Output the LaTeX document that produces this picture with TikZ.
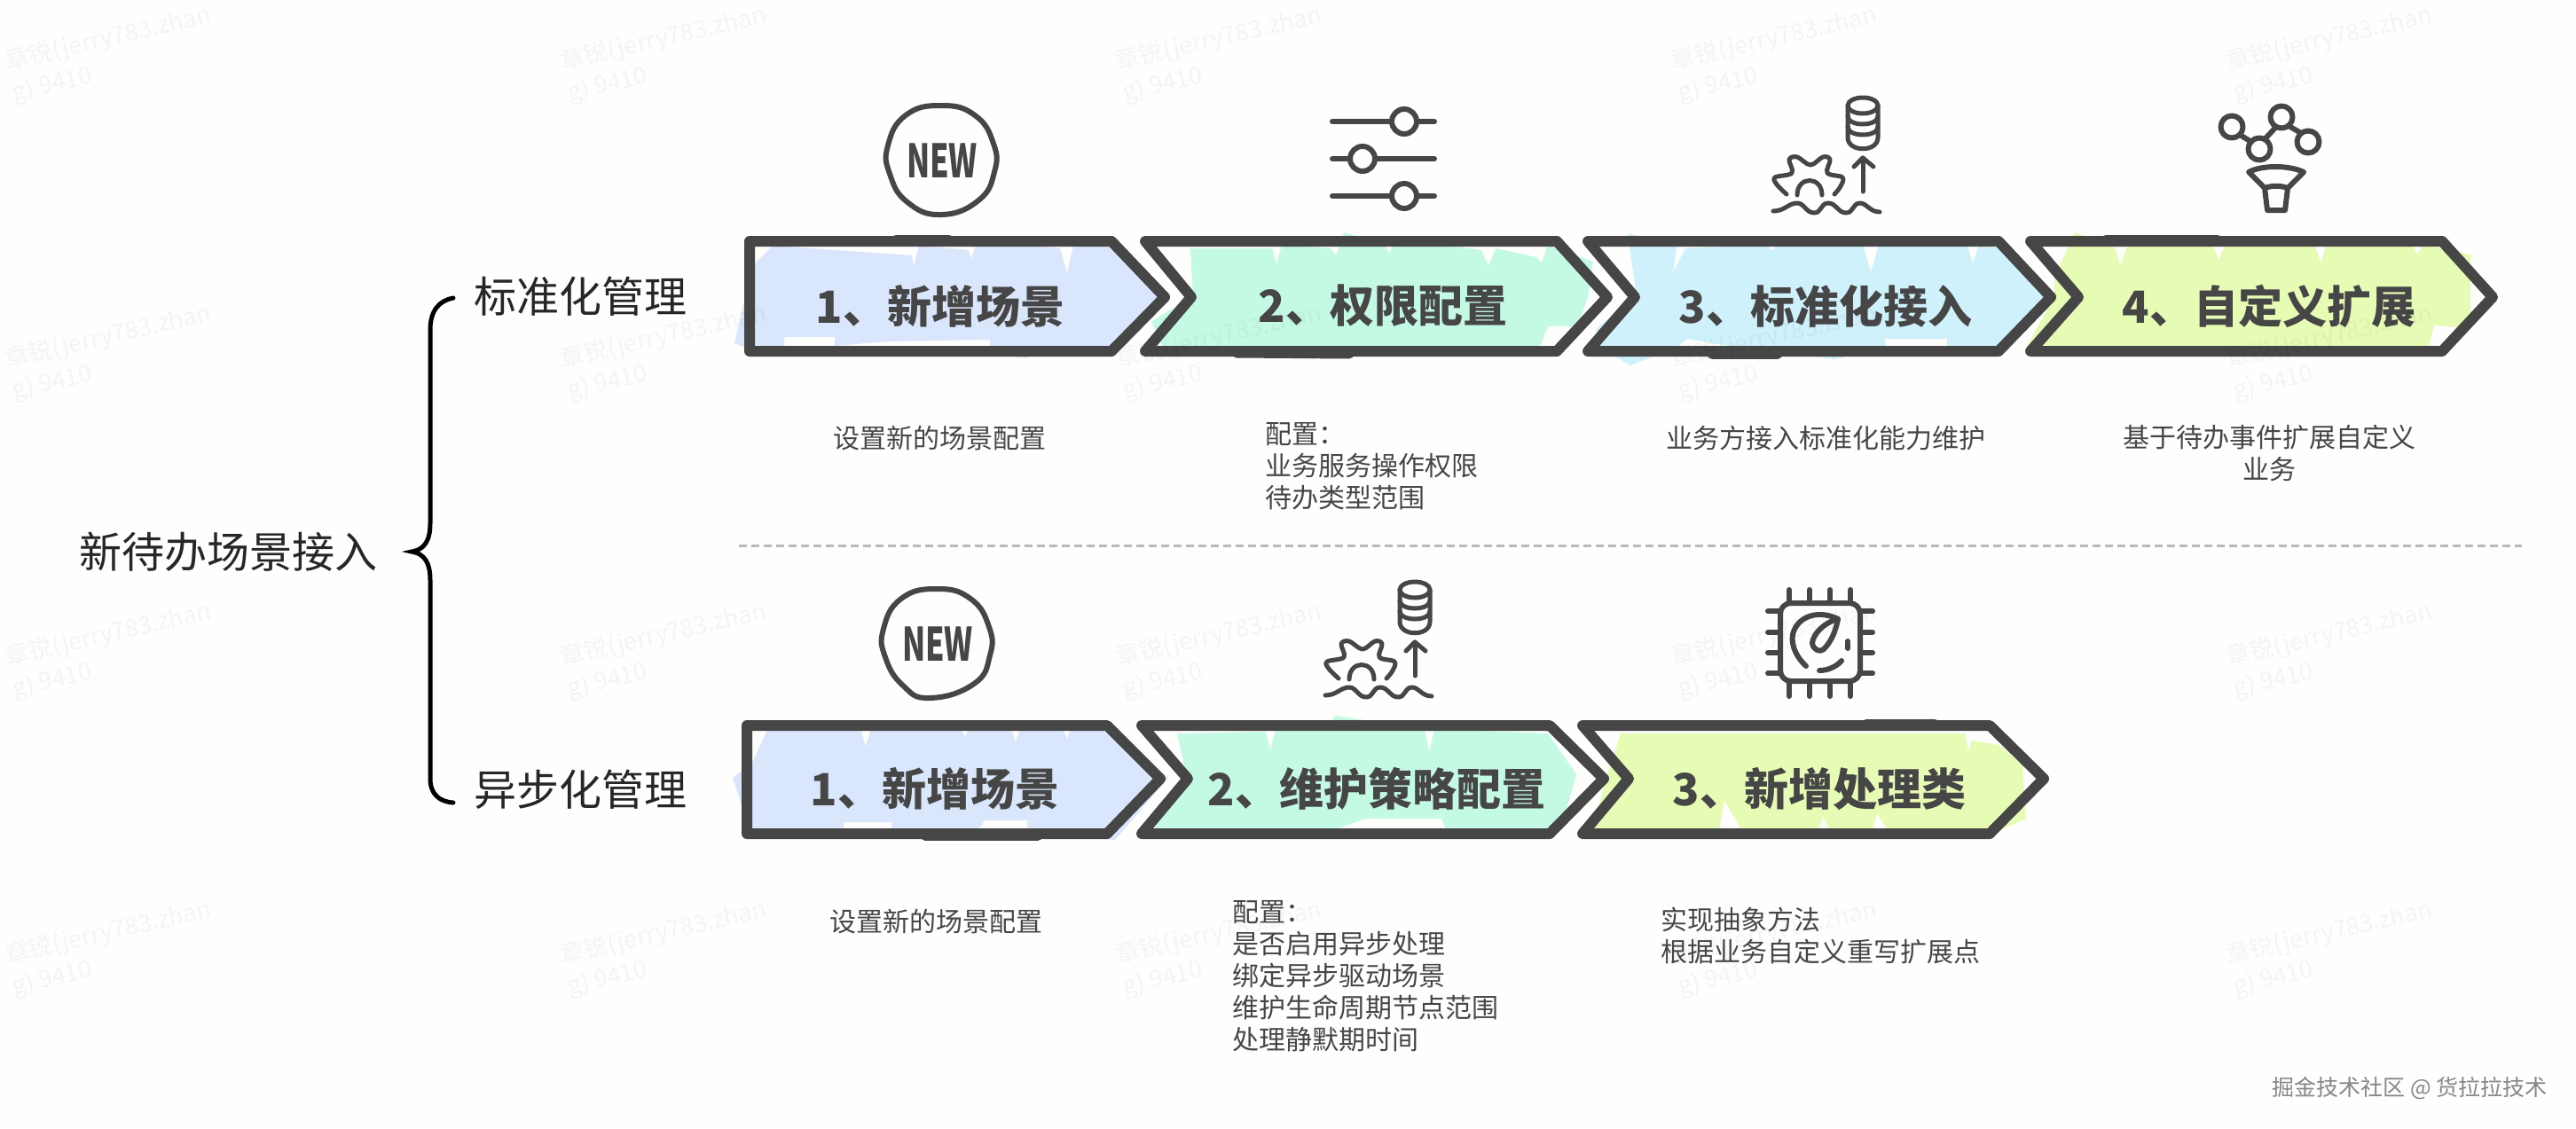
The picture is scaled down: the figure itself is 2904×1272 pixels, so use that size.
\documentclass[tikz,border=0pt]{standalone}
\usepackage{fontspec}
\setmainfont{Noto Sans CJK SC}
\definecolor{ink}{HTML}{464646}
\definecolor{cblue}{HTML}{D9E6FB}
\definecolor{cgreen}{HTML}{C4FAE4}
\definecolor{ccyan}{HTML}{CFF1FC}
\definecolor{clime}{HTML}{E6FCB5}
\definecolor{paper}{HTML}{FEFEFC}
\tikzset{
  chevron/.style={draw=ink,line width=12pt,line join=round,line cap=round},
  wobble/.style={draw=ink,line width=11pt,line cap=round},
  icon/.style={draw=ink,line width=6pt,line cap=round,line join=round},
  thinicon/.style={draw=ink,line width=5pt,line cap=round,line join=round},
  steptext/.style={text=ink,font=\fontsize{50}{56}\selectfont\bfseries,inner sep=0pt,anchor=center},
  desc/.style={text=ink,font=\fontsize{30}{36}\selectfont,inner sep=0pt,align=left,anchor=north west},
  head/.style={text=black!85,font=\fontsize{48}{54}\selectfont,inner sep=0pt},
  mark text/.style={text=black,text opacity=.04,font=\fontsize{27}{36}\selectfont,inner sep=0pt,align=left,rotate=13,anchor=north west},
}
\newcommand{\newicon}[4]{%
  \begin{scope}[shift={(#1,#2)}]
    \draw[icon] plot[smooth cycle,tension=.8] coordinates {(0,-61) (38,-50) (59,-18) (60,14) (42,46) (#4,62) (-38,48) (-58,16) (-60,-16) (-40,-50)};
    \node[text=ink,font=\fontsize{52}{56}\selectfont\bfseries,inner sep=0pt,xscale=.66] (#3) at (1,1) {NEW};
  \end{scope}}
\newcommand{\gearicon}{%
  \draw[thinicon] (2100,119) ellipse [x radius=17,y radius=9];
  \draw[thinicon] (2083,119) -- (2083,155) .. controls (2083,172) and (2117,172) .. (2117,155) -- (2117,119);
  \draw[thinicon] (2083,131) .. controls (2083,143) and (2117,143) .. (2117,131);
  \draw[thinicon] (2083,143) .. controls (2083,155) and (2117,155) .. (2117,143);
  \draw[thinicon] (2100,216) -- (2100,178);
  \draw[thinicon] (2090,188) -- (2100,178) -- (2112,188);
  \draw[thinicon] plot[smooth,tension=.6] coordinates {(2014,219) (2003,208) (2001,200) (2020,195) (2017,180) (2026,177) (2041,186) (2055,177) (2063,180) (2060,195) (2077,200) (2075,210) (2068,219)};
  \draw[thinicon] (2026,220) .. controls (2026,198) and (2054,198) .. (2054,220);
  \draw[thinicon] (1999,238) .. controls (2012,238) and (2016,229) .. (2026,229) .. controls (2034,229) and (2036,240) .. (2045,240) .. controls (2054,240) and (2052,229) .. (2061,229) .. controls (2070,229) and (2072,240) .. (2081,240) .. controls (2090,240) and (2088,229) .. (2097,229) .. controls (2104,229) and (2108,239) .. (2119,239);
}
\begin{document}
\begin{tikzpicture}[x=1pt,y=-1pt]
\useasboundingbox (0,0) rectangle (2904,1272);
\fill[paper] (0,0) rectangle (2904,1272);

% hand-painted colour patches, row 1
\fill[cblue] (871,277) -- (1028,288) -- (1030,300) -- (1036,277) -- (1092,282) -- (1095,292) -- (1102,270) -- (1195,280) -- (1203,308) -- (1210,277) -- (1262,278) -- (1311,335) -- (1262,392) -- (1164,392) -- (1158,404) -- (1116,400) -- (1116,383) -- (1000,385) -- (941,390) -- (941,380) -- (884,380) -- (884,390) -- (860,400) -- (828,387) -- (848,300) -- cycle;
\fill[cgreen] (1342,280) -- (1434,280) -- (1439,298) -- (1445,276) -- (1500,280) -- (1506,288) -- (1515,262) -- (1560,276) -- (1566,285) -- (1575,270) -- (1670,282) -- (1678,300) -- (1686,280) -- (1732,290) -- (1738,296) -- (1745,276) -- (1796,295) -- (1790,335) -- (1778,368) -- (1745,368) -- (1736,390) -- (1540,390) -- (1480,405) -- (1420,392) -- (1314,398) -- (1298,363) -- (1310,355) -- (1345,335) -- cycle;
\fill[ccyan] (1835,263) -- (1890,278) -- (1886,307) -- (1900,280) -- (1992,276) -- (1998,283) -- (2004,276) -- (2100,276) -- (2109,307) -- (2118,276) -- (2218,278) -- (2224,297) -- (2230,278) -- (2262,280) -- (2305,335) -- (2285,373) -- (2250,390) -- (2195,390) -- (2195,382) -- (2125,382) -- (2125,392) -- (2068,405) -- (1960,392) -- (1902,382) -- (1890,392) -- (1838,412) -- (1800,390) -- (1800,370) -- (1845,335) -- cycle;
\fill[clime] (2339,262) -- (2385,280) -- (2390,300) -- (2398,278) -- (2495,278) -- (2501,293) -- (2508,278) -- (2610,278) -- (2616,297) -- (2622,278) -- (2720,278) -- (2725,287) -- (2732,276) -- (2785,287) -- (2785,370) -- (2744,367) -- (2738,390) -- (2285,390) -- (2316,335) -- (2316,313) -- cycle;
% row 2
\fill[cblue] (865,823) -- (970,822) -- (976,842) -- (982,820) -- (1083,822) -- (1088,830) -- (1093,820) -- (1140,822) -- (1145,837) -- (1150,820) -- (1198,822) -- (1203,833) -- (1208,820) -- (1250,825) -- (1317,877) -- (1257,947) -- (1158,940) -- (1158,925) -- (1110,925) -- (1100,940) -- (1005,935) -- (1005,927) -- (951,927) -- (951,940) -- (845,935) -- (826,877) -- (848,860) -- cycle;
\fill[cgreen] (1327,827) -- (1427,825) -- (1432,845) -- (1438,822) -- (1500,815) -- (1505,807) -- (1606,822) -- (1611,848) -- (1617,822) -- (1745,827) -- (1777,873) -- (1764,920) -- (1740,940) -- (1630,935) -- (1625,923) -- (1540,923) -- (1505,935) -- (1298,940) -- (1337,873) -- cycle;
\fill[clime] (1827,827) -- (2215,827) -- (2219,847) -- (2223,835) -- (2254,840) -- (2280,863) -- (2284,923) -- (2246,940) -- (2127,935) -- (2116,917) -- (2111,935) -- (2062,935) -- (2055,920) -- (2050,935) -- (1963,935) -- (1944,903) -- (1938,935) -- (1794,938) -- (1814,867) -- cycle;

% chevrons, row 1
\draw[chevron] (845,272) -- (1253,272) -- (1313,335) -- (1253,396) -- (845,396) -- cycle;
\draw[chevron] (1291,272) -- (1755,272) -- (1812,335) -- (1755,396) -- (1291,396) -- (1343,335) -- cycle;
\draw[chevron] (1790,272) -- (2253,272) -- (2312,335) -- (2253,396) -- (1790,396) -- (1843,335) -- cycle;
\draw[chevron] (2289,272) -- (2753,272) -- (2810,335) -- (2753,396) -- (2289,396) -- (2343,335) -- cycle;
% chevrons, row 2
\draw[chevron] (842,818) -- (1248,818) -- (1308,878) -- (1248,940) -- (842,940) -- cycle;
\draw[chevron] (1287,818) -- (1747,818) -- (1808,878) -- (1747,940) -- (1287,940) -- (1339,878) -- cycle;
\draw[chevron] (1784,818) -- (2243,818) -- (2304,878) -- (2243,940) -- (1784,940) -- (1836,878) -- cycle;
% hand-drawn wobble on the edges
\draw[wobble] (1010,270) -- (1070,270);
\draw[wobble] (1394,398) -- (1521,399);
\draw[wobble] (1930,399) -- (2004,399);
\draw[wobble] (2374,270) -- (2500,270);
\draw[wobble] (1043,942) -- (1170,942);
\draw[wobble] (2104,816) -- (2181,816);

% step labels
\node[steptext] (s1) at (1060,345) {1、新增场景};
\node[steptext] (s2) at (1559,345) {2、权限配置};
\node[steptext] (s3) at (2058,345) {3、标准化接入};
\node[steptext] (s4) at (2558,345) {4、自定义扩展};
\node[steptext] (t1) at (1054,889) {1、新增场景};
\node[steptext] (t2) at (1552,889) {2、维护策略配置};
\node[steptext] (t3) at (2051,889) {3、新增处理类};

% descriptions
\node[desc] (d1) at (939,480) {设置新的场景配置};
\node[desc] (d2) at (1426,476) {配置：\\业务服务操作权限\\待办类型范围};
\node[desc] (d3) at (1878,480) {业务方接入标准化能力维护};
\node[desc,align=center,anchor=north] (d4) at (2558,479) {基于待办事件扩展自定义\\业务};
\node[desc] (e1) at (935,1025) {设置新的场景配置};
\node[desc] (e2) at (1389,1015) {配置：\\是否启用异步处理\\绑定异步驱动场景\\维护生命周期节点范围\\处理静默期时间};
\node[desc] (e3) at (1872,1023) {实现抽象方法\\根据业务自定义重写扩展点};

% left tree
\node[head] (root) at (257,622) {新待办场景接入};
\node[head] (std) at (654,334) {标准化管理};
\node[head] (asy) at (654,890) {异步化管理};
\draw[black,line width=5pt,line cap=round] (511,336) .. controls (495,339) and (485,350) .. (485,372) -- (485,590) .. controls (485,610) and (478,620) .. (464,622) .. controls (478,624) and (485,634) .. (485,654) -- (485,878) .. controls (485,895) and (495,904) .. (511,905);

% divider
\draw[gray!55,line width=3pt,dash pattern=on 9pt off 5pt] (833,615) -- (2843,615);

% icons
\newicon{1061}{180}{newa}{0}
\newicon{1056}{725}{newb}{-8}
\foreach \yy/\xx in {137/1583,179/1536,221/1583}{
  \draw[icon] (1502,\yy) -- (1617,\yy);
  \draw[icon,fill=paper] (\xx,\yy) circle (14);
}
\gearicon
\begin{scope}[shift={(-505,546)}]\gearicon\end{scope}
% funnel
\draw[icon] (2525,152) -- (2538,160) (2553,157) -- (2566,143) (2580,142) -- (2594,150);
\draw[icon] (2516,143) circle (12.5) (2572,132) circle (12.5) (2547,168) circle (12.5) (2602,160) circle (12.5);
\draw[icon] (2535,194) .. controls (2550,186) and (2580,186) .. (2597,194) -- (2579,212) .. controls (2570,209) and (2562,209) .. (2553,212) -- cycle;
\draw[icon] (2553,212) -- (2556,237) -- (2576,237) -- (2579,212);
% chip
\draw[icon,rounded corners=12pt] (2007,680) rectangle (2097,768);
\foreach \xx in {2017,2040,2063,2086}{\draw[icon] (\xx,665) -- (\xx,680) (\xx,768) -- (\xx,785);}
\foreach \yy in {689,713,736,759}{\draw[icon] (1993,\yy) -- (2007,\yy) (2097,\yy) -- (2111,\yy);}
\draw[icon] (2036,751) .. controls (2022,738) and (2018,722) .. (2022,712) .. controls (2028,695) and (2050,687) .. (2072,698);
\draw[icon] (2072,698) .. controls (2056,702) and (2044,715) .. (2043,725) .. controls (2044,733) and (2052,736) .. (2056,732) .. controls (2066,722) and (2070,708) .. (2072,698);
\draw[icon] (2083,723) -- (2083,731);
\draw[icon] (2051,756) .. controls (2060,756) and (2070,752) .. (2076,745);

% credit
\node[text=gray!95,font=\fontsize{25}{30}\selectfont,inner sep=0pt,anchor=east] (credit) at (2872,1227) {掘金技术社区 @ 货拉拉技术};

% watermarks
\foreach \cc in {0,1,2,3,4}{\foreach \rr in {0,1,2,3}{
  \node[mark text] (wm\cc\rr) at (\cc*626+3,\rr*336+56) {章锐(jerry783.zhan\\g) 9410};
}}
\end{tikzpicture}
\end{document}
